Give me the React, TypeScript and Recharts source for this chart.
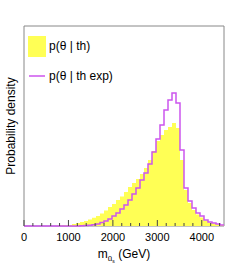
import React from 'react';
import {
  ComposedChart,
  Area,
  Line,
  XAxis,
  YAxis,
  ReferenceArea,
  Legend,
  Label,
} from 'recharts';

// histogram binning: 50 bins of 90 GeV from 0 to 4500
const BIN_WIDTH = 90;
const X_MAX = 4500;
const Y_MAX = 200;

// p(theta | th), bin contents (arbitrary units)
const thDensity = [
  0, 0, 0, 0, 0, 0, 0, 0, 0.2, 0.4,
  0.7, 1, 2, 3, 4, 5, 6.5, 8.3, 10, 12.5,
  15.5, 19, 22, 26, 29.5, 34, 39, 43, 47, 52,
  58, 66, 75, 85, 91, 96, 99, 103, 98, 66,
  36, 23, 16, 11.5, 8.5, 5.5, 3.5, 2.5, 1.5, 1,
];

// p(theta | th exp), bin contents (arbitrary units)
const thExpDensity = [
  0, 0, 0, 0, 0, 0, 0, 0, 0, 0,
  0, 0, 0, 0, 0.2, 0.4, 0.7, 1.2, 2, 3.5,
  5, 7, 10, 13, 17, 21, 26, 32, 38, 46,
  53, 62, 74, 87, 101, 116, 126, 133, 123, 76,
  38, 25, 18, 13, 10, 6, 4, 3, 2, 1,
];

const xTicks = [
  0, 200, 400, 600, 800, 1000, 1200, 1400, 1600, 1800, 2000, 2200,
  2400, 2600, 2800, 3000, 3200, 3400, 3600, 3800, 4000, 4200, 4400,
];
const majorTicks = [0, 1000, 2000, 3000, 4000];

const YELLOW = '#ffff55';
const MAGENTA = '#cc55ee';
const FONT = '"Liberation Sans", Arial, Helvetica, sans-serif';

// step data: one row per bin lower edge, plus a closing row at the upper edge
const rows = thDensity.map((v, i) => ({
  edge: i * BIN_WIDTH,
  th: v,
  thExp: thExpDensity[i],
}));
rows.push({
  edge: thDensity.length * BIN_WIDTH,
  th: thDensity[thDensity.length - 1],
  thExp: thExpDensity[thExpDensity.length - 1],
});

const AxisTick = (props: any) => {
  const { x, y, payload } = props;
  const major = majorTicks.includes(payload.value);
  return (
    <g>
      <line x1={x} y1={y} x2={x} y2={y - (major ? 6 : 3)} stroke="#444" strokeWidth={1} />
      {major && (
        <text x={x} y={y + 15} textAnchor="middle" fontSize={11} fontFamily={FONT} fill="#000">
          {payload.value}
        </text>
      )}
    </g>
  );
};

// axis titles: x title under the axis, y title rotated left of the frame
const AxisTitles = (props: any) => {
  const { viewBox } = props;
  const cx = viewBox.x + viewBox.width / 2;
  const cy = 26 + Y_MAX / 2;
  return (
    <g>
      <text x={cx} y={258} textAnchor="middle" fontSize={12} fontFamily={FONT} fill="#000">
        m
        <tspan fontSize={8} dy={3}>ũ</tspan>
        <tspan fontSize={5} dy={2}>s</tspan>
        <tspan fontSize={12} dy={-5}> (GeV)</tspan>
      </text>
      <text
        x={15}
        y={cy}
        transform={`rotate(-90, 15, ${cy})`}
        textAnchor="middle"
        fontSize={12}
        fontFamily={FONT}
        fill="#000"
      >
        Probability density
      </text>
    </g>
  );
};

const LegendBox = () => (
  <svg width={130} height={90}>
    <rect x={28} y={36} width={18} height={21} fill={YELLOW} />
    <text x={49} y={50} fontSize={12} fontFamily={FONT} fill="#000">
      p(θ | th)
    </text>
    <line x1={29} y1={76} x2={45} y2={76} stroke={MAGENTA} strokeWidth={1.5} />
    <text x={49} y={80} fontSize={12} fontFamily={FONT} fill="#000">
      p(θ | th exp)
    </text>
  </svg>
);

export default function App() {
  return (
    <div style={{ position: 'absolute', left: 0, top: 0, width: 249, height: 266, background: '#fff' }}>
      <ComposedChart
        width={249}
        height={266}
        data={rows}
        margin={{ top: 26, right: 25, bottom: 10, left: 24 }}
      >
        <XAxis
          dataKey="edge"
          type="number"
          domain={[0, X_MAX]}
          ticks={xTicks}
          interval={0}
          height={30}
          axisLine={false}
          tickLine={false}
          tickSize={0}
          tickMargin={0}
          tick={<AxisTick />}
        >
          <Label content={<AxisTitles />} />
        </XAxis>
        <YAxis
          type="number"
          domain={[0, Y_MAX]}
          width={0}
          tick={false}
          axisLine={false}
          tickLine={false}
        />
        <ReferenceArea x1={0} x2={X_MAX} y1={0} y2={Y_MAX} fill="none" stroke="#888" strokeWidth={1} />
        <Area
          dataKey="th"
          name="p(θ | th)"
          type="stepAfter"
          fill={YELLOW}
          fillOpacity={1}
          stroke="none"
          isAnimationActive={false}
        />
        <Line
          dataKey="thExp"
          name="p(θ | th exp)"
          type="stepAfter"
          stroke={MAGENTA}
          strokeWidth={1.5}
          dot={false}
          isAnimationActive={false}
        />
        <Legend
          layout="vertical"
          align="center"
          verticalAlign="middle"
          wrapperStyle={{ left: 0, top: 0, width: 130, height: 90 }}
          content={<LegendBox />}
        />
      </ComposedChart>
    </div>
  );
}
